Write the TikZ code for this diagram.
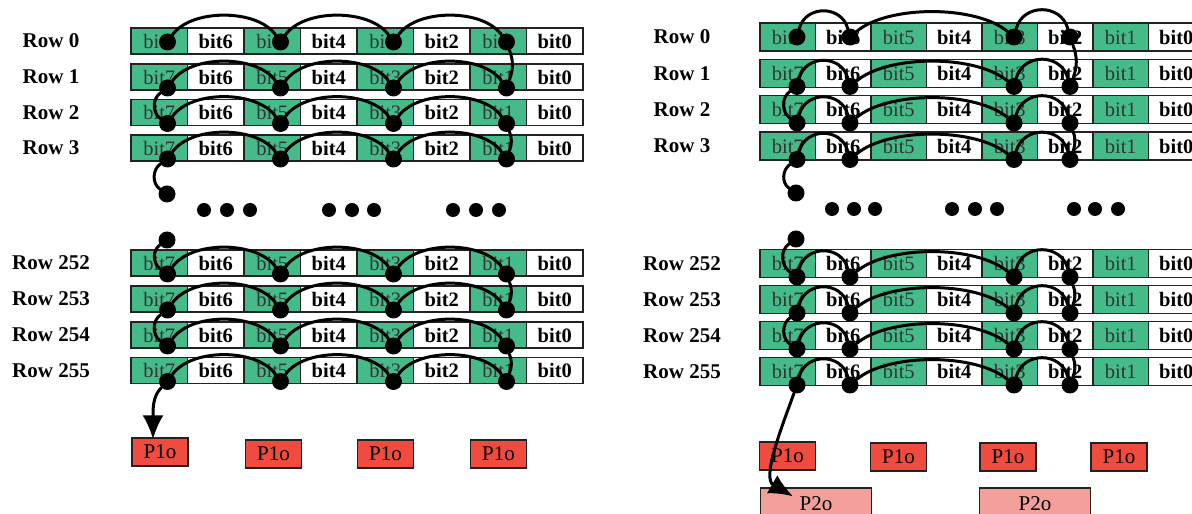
\documentclass[tikz,border=0pt]{standalone}
\usepackage{fontspec}
\setmainfont{Liberation Serif}
\usepackage{tikz}
\usetikzlibrary{arrows.meta}
\definecolor{CellGreen}{HTML}{45BB89}
\definecolor{PortRed}{HTML}{F04B3F}
\definecolor{PortPink}{HTML}{F3A09B}
\definecolor{Frame}{HTML}{222222}

\begin{document}
\begin{tikzpicture}[x=1pt,y=1pt]
  \path[use as bounding box] (0,0) rectangle (1192,514);
  \tikzset{
    bitCell/.style={
      draw=Frame, line width=1.3pt, inner sep=0pt,
      minimum width=56.5pt, minimum height=26pt,
      font=\fontsize{20.5}{22}\selectfont
    },
    bitOn/.style={bitCell,fill=CellGreen,text=black!80},
    bitOff/.style={bitCell,fill=white,font=\fontsize{20.5}{22}\selectfont\bfseries},
    rowLabel/.style={font=\fontsize{21}{23}\selectfont\bfseries,inner sep=0pt},
    hopDot/.style={circle,fill=black,inner sep=0pt,minimum size=17pt},
    gapDot/.style={circle,fill=black,inner sep=0pt,minimum size=14pt},
    portBox/.style={
      draw=Frame, line width=1.3pt, fill=PortRed, inner sep=0pt,
      minimum width=56pt, minimum height=28pt,
      font=\fontsize{21}{23}\selectfont
    },
    portWide/.style={portBox,fill=PortPink,minimum width=111pt,minimum height=32pt},
    link/.style={draw=black,line width=3pt,line cap=round},
    linkEnd/.style={link,-{Latex[length=24pt,width=21pt]}},
    arcWide/.style={out=55,in=125,looseness=0.8},
    arcShort/.style={out=75,in=105,looseness=1.3},
    arcLong/.style={out=40,in=140,looseness=0.7},
    sideRight/.style={out=-70,in=70},
    sideLeft/.style={out=-145,in=145}
  }

  % left panel: rows of cells
  \foreach \r/\lab/\yy in {0/0/473,1/1/437,2/2/401.5,3/3/366,4/252/251,5/253/215,6/254/179,7/255/143.5}{
    \node[rowLabel] (Lrow\r) at (51,\yy) {Row \lab};
    \foreach \b/\sty in {7/bitOn,6/bitOff,5/bitOn,4/bitOff,3/bitOn,2/bitOff,1/bitOn,0/bitOff}
      \node[\sty] (L\r-\b) at ({159.25+56.5*(7-\b)},\yy) {bit\b};
  }
  % right panel: rows of cells
  \foreach \r/\lab/\yy in {0/0/477,1/1/440.7,2/2/404.4,3/3/368,4/252/250.5,5/253/214.5,6/254/178.5,7/255/142.5}{
    \node[rowLabel] (Rrow\r) at (682,\yy) {Row \lab};
    \foreach \b/\sty in {7/bitOn,6/bitOff,5/bitOn,4/bitOff,3/bitOn,2/bitOff,1/bitOn,0/bitOff}
      \node[\sty,minimum width=55.5pt,minimum height=28pt] (R\r-\b) at ({787.75+55.5*(7-\b)},\yy) {bit\b};
  }

  % hop dots
  \foreach \r/\yy in {0/472,1/426,2/390.5,3/355,4/240,5/204,6/168,7/132.5}
    \foreach \b/\xx in {7/167.5,5/280.5,3/393.5,1/506.5}
      \node[hopDot] (Ld\r-\b) at (\xx,\yy) {};
  \foreach \r/\yy in {0/477,1/427.5,2/391,3/354.5,4/237,5/201,6/165,7/129}
    \foreach \b/\xx in {7/797,6/850,3/1014,2/1070}
      \node[hopDot] (Rd\r-\b) at (\xx,\yy) {};

  \node[hopDot] (Lgap1) at (167,320) {};
  \node[hopDot] (Lgap2) at (167,274) {};
  \node[hopDot] (Rgap1) at (796,321) {};
  \node[hopDot] (Rgap2) at (796,275) {};
  \foreach \i/\xx in {1/204,2/227,3/250,4/329,5/352,6/374,7/453,8/476,9/499}
    \node[gapDot] (Lell\i) at (\xx,304) {};
  \foreach \i/\xx in {1/832,2/854,3/875,4/952,5/975,6/997,7/1074,8/1095,9/1118}
    \node[gapDot] (Rell\i) at (\xx,305) {};

  % output ports
  \node[portBox] (LP1a) at (160,62) {P1o};
  \node[portBox] (LP1b) at (273.5,60) {P1o};
  \node[portBox] (LP1c) at (385.5,60) {P1o};
  \node[portBox] (LP1d) at (498.5,60) {P1o};
  \node[portBox] (RP1a) at (787.5,58) {P1o};
  \node[portBox] (RP1b) at (898.5,57) {P1o};
  \node[portBox] (RP1c) at (1008,57) {P1o};
  \node[portBox] (RP1d) at (1119,57) {P1o};
  \node[portWide] (RP2a) at (816,10) {P2o};
  \node[portWide] (RP2b) at (1035,10) {P2o};
  \coordinate (tipL) at ([xshift=-7pt,yshift=-2pt]LP1a.north);
  \coordinate (tipR) at ([xshift=-23pt,yshift=-9pt]RP2a.north);

  % left snake
  \foreach \r in {0,...,7}
    \draw[link] (Ld\r-7) to[arcWide] (Ld\r-5) (Ld\r-5) to[arcWide] (Ld\r-3) (Ld\r-3) to[arcWide] (Ld\r-1);
  \foreach \a/\c in {0/1,2/3,4/5,6/7}
    \draw[link] (Ld\a-1) to[sideRight] (Ld\c-1);
  \foreach \a/\c in {1/2,5/6}
    \draw[link] (Ld\a-7) to[sideLeft] (Ld\c-7);
  \draw[link] (Ld3-7) to[sideLeft] (Lgap1);
  \draw[link] (Lgap2) to[sideLeft] (Ld4-7);
  \draw[linkEnd] (Ld7-7) to[out=-135,in=90,out looseness=0.6,in looseness=1.5] (tipL);

  % right snake
  \foreach \r in {0,...,7}
    \draw[link] (Rd\r-7) to[arcShort] (Rd\r-6) (Rd\r-6) to[arcLong] (Rd\r-3) (Rd\r-3) to[arcShort] (Rd\r-2);
  \foreach \a/\c in {0/1,2/3,4/5,6/7}
    \draw[link] (Rd\a-2) to[sideRight] (Rd\c-2);
  \foreach \a/\c in {1/2,5/6}
    \draw[link] (Rd\a-7) to[sideLeft] (Rd\c-7);
  \draw[link] (Rd3-7) to[sideLeft] (Rgap1);
  \draw[link] (Rgap2) to[sideLeft] (Rd4-7);
  \draw[linkEnd] (Rd7-7) to[out=-110,in=150,looseness=0.9] (tipR);
\end{tikzpicture}
\end{document}
